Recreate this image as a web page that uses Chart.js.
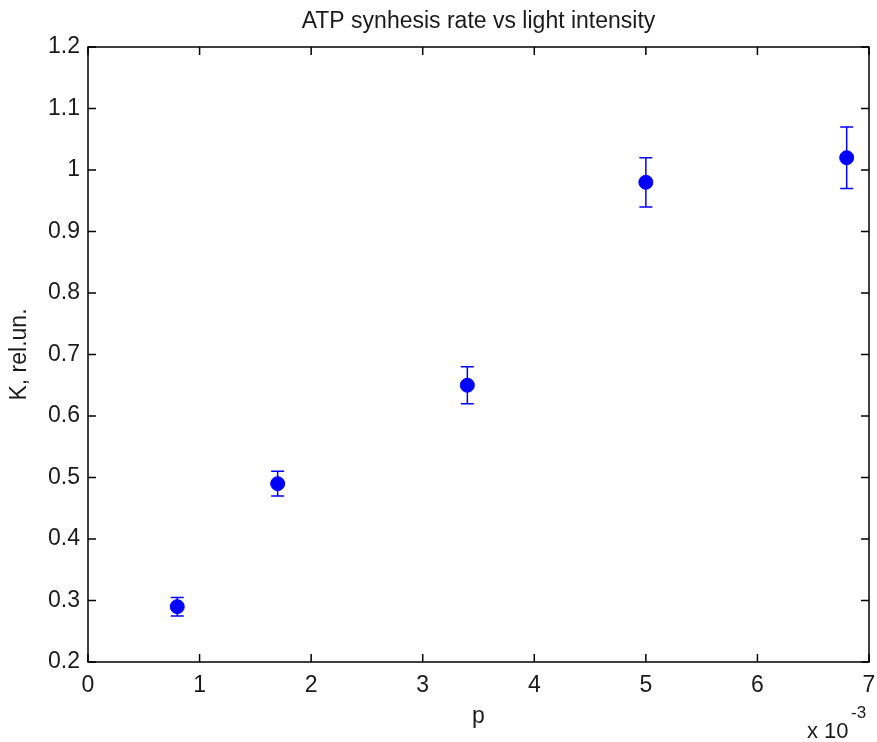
<!DOCTYPE html>
<html lang="en">
<head>
    <meta charset="UTF-8">
    <title>ATP synhesis rate vs light intensity</title>
    <style>
        body { margin: 0; background: #ffffff; }
        canvas { display: block; }
    </style>
    <script src="https://cdn.jsdelivr.net/npm/chart.js@4.4.1/dist/chart.umd.min.js"></script>
</head>
<body>
<canvas id="errChart" width="877" height="742"></canvas>
<script>
    // data (p is in units of 1e-3)
    const pValues = [0.8, 1.7, 3.4, 5.0, 6.8];
    const kValues = [0.29, 0.49, 0.65, 0.98, 1.02];
    const kLow = [0.275, 0.47, 0.62, 0.94, 0.97];
    const kHigh = [0.305, 0.51, 0.68, 1.02, 1.07];

    const xTickLabels = ['0', '1', '2', '3', '4', '5', '6', '7'];
    const yTickLabels = ['0.2', '0.3', '0.4', '0.5', '0.6', '0.7', '0.8', '0.9', '1', '1.1', '1.2'];

    const fontFamily = '"Liberation Sans", Arial, Helvetica, sans-serif';
    const textColor = '#1a1a1a';

    // error bars, box with inward ticks, title and exponent label
    const matlabLook = {
        id: 'matlabLook',
        afterDatasetsDraw(chart) {
            const ctx = chart.ctx;
            const xs = chart.scales.x, ys = chart.scales.y;
            ctx.save();
            ctx.strokeStyle = '#0000ff';
            ctx.lineWidth = 1.5;
            pValues.forEach((p, i) => {
                const x = xs.getPixelForValue(p);
                const y1 = ys.getPixelForValue(kLow[i]);
                const y2 = ys.getPixelForValue(kHigh[i]);
                ctx.beginPath();
                ctx.moveTo(x, y1); ctx.lineTo(x, y2);
                ctx.moveTo(x - 6.5, y1); ctx.lineTo(x + 6.5, y1);
                ctx.moveTo(x - 6.5, y2); ctx.lineTo(x + 6.5, y2);
                ctx.stroke();
            });
            ctx.restore();
        },
        afterDraw(chart) {
            const ctx = chart.ctx;
            const a = chart.chartArea;
            const xs = chart.scales.x, ys = chart.scales.y;
            const tl = 8;
            ctx.save();
            ctx.strokeStyle = '#000000';
            ctx.lineWidth = 1.5;
            ctx.strokeRect(a.left, a.top, a.right - a.left, a.bottom - a.top);
            ctx.beginPath();
            xs.ticks.forEach(t => {
                const x = xs.getPixelForValue(t.value);
                ctx.moveTo(x, a.bottom); ctx.lineTo(x, a.bottom - tl);
                ctx.moveTo(x, a.top); ctx.lineTo(x, a.top + tl);
            });
            ys.ticks.forEach(t => {
                const y = ys.getPixelForValue(t.value);
                ctx.moveTo(a.left, y); ctx.lineTo(a.left + tl, y);
                ctx.moveTo(a.right, y); ctx.lineTo(a.right - tl, y);
            });
            ctx.stroke();

            ctx.fillStyle = textColor;
            ctx.textAlign = 'center';
            ctx.textBaseline = 'middle';
            ctx.font = '23px ' + fontFamily;
            ctx.fillText('ATP synhesis rate vs light intensity', (a.left + a.right) / 2, 22);

            ctx.textAlign = 'left';
            ctx.textBaseline = 'alphabetic';
            ctx.font = '22px ' + fontFamily;
            ctx.fillText('x 10', 807, 738);
            ctx.font = '17px ' + fontFamily;
            ctx.fillText('-3', 851, 718);
            ctx.restore();
        }
    };

    new Chart(document.getElementById('errChart'), {
        type: 'scatter',
        data: {
            datasets: [{
                data: pValues.map((p, i) => ({ x: p, y: kValues[i] })),
                backgroundColor: '#0000ff',
                borderColor: '#0000ff',
                pointRadius: 7,
                pointHoverRadius: 7
            }]
        },
        options: {
            responsive: false,
            animation: false,
            events: [],
            layout: { padding: { top: 47, right: 8, left: 0, bottom: 0 } },
            plugins: { legend: { display: false }, tooltip: { enabled: false } },
            scales: {
                x: {
                    type: 'linear',
                    min: 0, max: 7,
                    afterFit(scale) { scale.height = 80; },
                    afterBuildTicks(scale) {
                        scale.ticks = xTickLabels.map((_, i) => ({ value: i }));
                    },
                    grid: { drawOnChartArea: false, drawTicks: true, tickLength: 10, tickColor: 'rgba(0,0,0,0)' },
                    border: { display: false },
                    ticks: {
                        padding: 0,
                        color: textColor,
                        font: { family: fontFamily, size: 23 },
                        maxRotation: 0,
                        callback: (v, i) => xTickLabels[i]
                    },
                    title: {
                        display: true,
                        text: 'p',
                        color: textColor,
                        font: { family: fontFamily, size: 23 },
                        padding: { top: 0, bottom: 12 }
                    }
                },
                y: {
                    type: 'linear',
                    min: 0.2, max: 1.2,
                    afterFit(scale) { scale.width = 88; },
                    afterBuildTicks(scale) {
                        scale.ticks = yTickLabels.map(l => ({ value: parseFloat(l) }));
                    },
                    grid: { drawOnChartArea: false, drawTicks: true, tickLength: 8, tickColor: 'rgba(0,0,0,0)' },
                    border: { display: false },
                    ticks: {
                        padding: 0,
                        color: textColor,
                        font: { family: fontFamily, size: 23 },
                        callback: (v, i) => yTickLabels[i]
                    },
                    title: {
                        display: true,
                        text: 'K, rel.un.',
                        color: textColor,
                        font: { family: fontFamily, size: 23 },
                        padding: { top: 6, bottom: 0 }
                    }
                }
            }
        },
        plugins: [matlabLook]
    });
</script>
</body>
</html>
